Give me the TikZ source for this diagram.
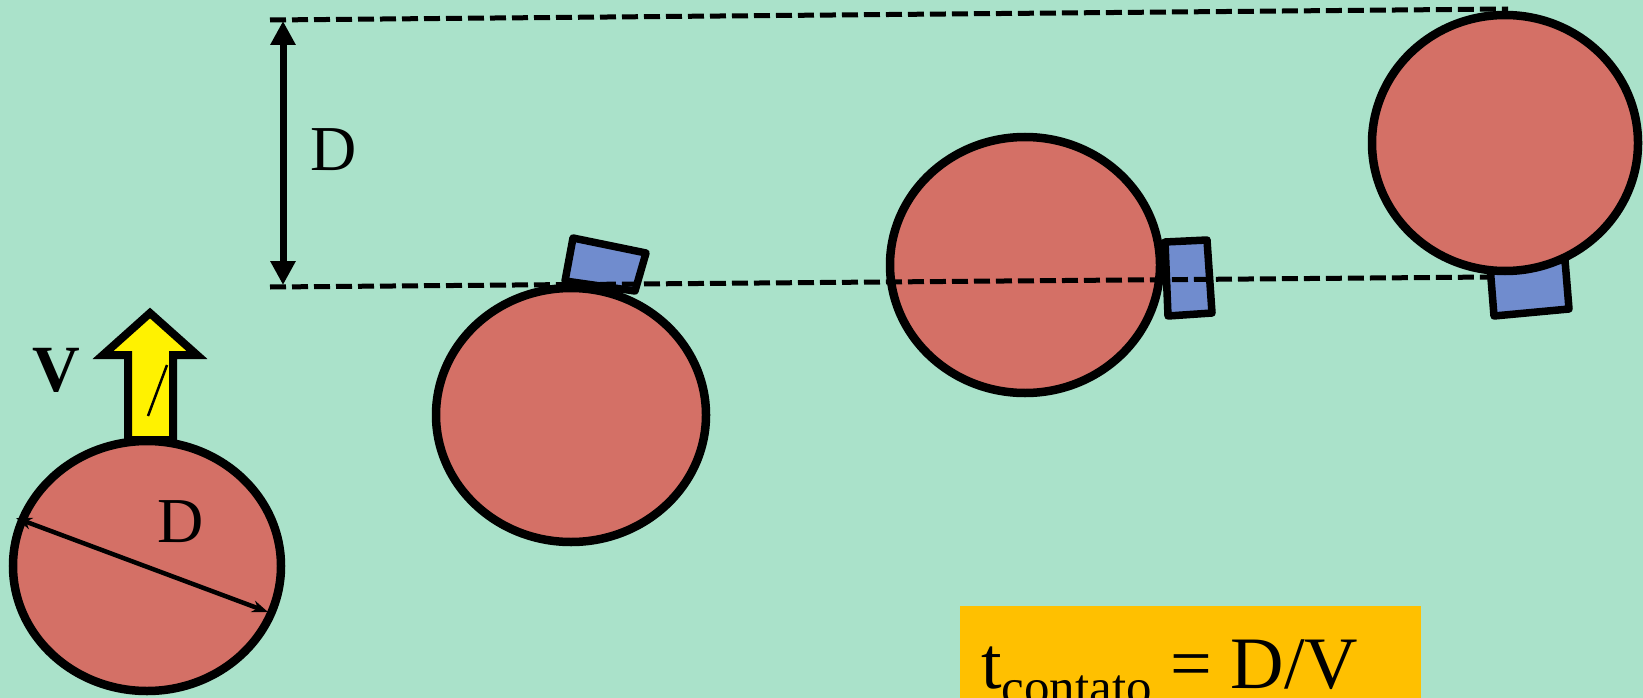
\documentclass[tikz,border=0pt]{standalone}
\usepackage{fontspec}
\setmainfont{Liberation Serif}
\usetikzlibrary{shapes.geometric,arrows.meta}
\definecolor{bgmint}{RGB}{170,226,202}
\definecolor{ballred}{RGB}{212,112,102}
\definecolor{padblue}{RGB}{112,140,206}
\definecolor{boxorange}{RGB}{255,192,0}
\tikzset{
  ball/.style={ellipse, draw=black, fill=ballred, line width=8.5pt, inner sep=0pt},
  pad/.style={draw=black, fill=padblue, line width=7.5pt, line join=round},
  guide/.style={draw=black, line width=5pt, dash pattern=on 16pt off 6pt},
  lbl/.style={font=\fontsize{64}{70}\selectfont, inner sep=0pt},
}
\begin{document}
\begin{tikzpicture}[x=1pt,y=-1pt]
\useasboundingbox (0,0) rectangle (1643,698);
\fill[bgmint] (0,0) rectangle (1643,698);
% blue pads (behind balls)
\draw[pad] (573,238) -- (646,253) -- (635,291) -- (565,281) -- cycle;
\draw[pad] (1165,242) -- (1207,240) -- (1212,313) -- (1168,316) -- cycle;
\draw[pad] (1490,266) -- (1565,260) -- (1569,309) -- (1494,316) -- cycle;
% balls
\node[ball, minimum width=268pt, minimum height=250pt] (b1) at (147,566) {};
\node[ball, minimum width=270pt, minimum height=254pt] (b2) at (571,415) {};
\node[ball, minimum width=270pt, minimum height=256pt] (b3) at (1025,265) {};
\node[ball, minimum width=266pt, minimum height=256pt] (b4) at (1505,143) {};
% dashed guide lines
\coordinate (g1a) at (270,20);
\coordinate (g1b) at (1508,9);
\coordinate (g2a) at (270,287);
\coordinate (g2b) at (1493,277);
\draw[guide] (g1a) -- (g1b);
\draw[guide] (g2a) -- (g2b);
% vertical D arrow
\coordinate (va) at (283,21);
\coordinate (vb) at (283,285);
\draw[line width=7pt, {Triangle[length=24pt,width=24pt]}-{Triangle[length=24pt,width=24pt]}] (va) -- (vb);
\node[lbl] (dtop) at (334,150) {D};
% diameter arrow
\coordinate (da) at (16,518);
\coordinate (db) at (268,612);
\draw[line width=4.5pt, {Stealth[length=16pt,width=12pt]}-{Stealth[length=16pt,width=12pt]}] (da) -- (db);
\node[lbl] (dball) at (181,522) {D};
% yellow velocity arrow
\draw[fill=yellow, draw=black, line width=8pt, line join=miter]
  (150,313) -- (197,355) -- (173,355) -- (173,440) -- (128,440) -- (128,355) -- (103,355) -- cycle;
\coordinate (sa) at (148,416);
\coordinate (sb) at (167,365);
\draw[line width=2.5pt] (sa) -- (sb);
\node[lbl, font=\fontsize{66}{70}\selectfont\bfseries] (vlab) at (56,370) {V};
% formula box
\fill[boxorange] (960,606) rectangle (1421,700);
\node[inner sep=0pt, anchor=base west, font=\fontsize{74}{80}\selectfont] (form) at (981,688)
  {t\raisebox{-16pt}{\fontsize{51}{60}\selectfont contato} = D/V};
\end{tikzpicture}
\end{document}
